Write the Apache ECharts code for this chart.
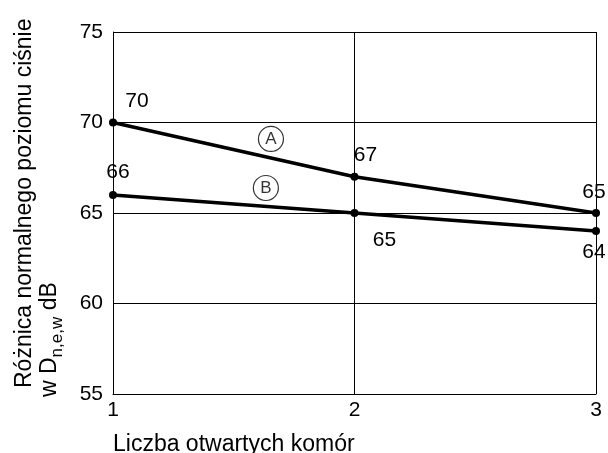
<!DOCTYPE html>
<html><head><meta charset="utf-8">
<script src="https://cdn.jsdelivr.net/npm/echarts@6/dist/echarts.min.js"></script>
<style>html,body{margin:0;padding:0;background:#fff}#c{width:608px;height:453px}</style>
</head><body><div id="c"></div>
<script>
var categories = [1, 2, 3];
var seriesA = [70, 67, 65];
var seriesB = [66, 65, 64];
var yTicks = [55, 60, 65, 70, 75];
var annotations = [
  {name: 'A', x: 1.654, y: 69.09},
  {name: 'B', x: 1.633, y: 66.38}
];
var xAxisTitle = 'Liczba otwartych komór';
var yAxisTitle1 = 'Różnica normalnego poziomu ciśnie';
var FONT = 'Liberation Sans, Arial, sans-serif';

var chart = echarts.init(document.getElementById('c'), null, {renderer: 'canvas'});

function pts(vals) { return categories.map(function (c, i) { return [c, vals[i]]; }); }

var labA = [
  {position: 'top', offset: [24, -2]},
  {position: 'top', offset: [11, -2]},
  {position: 'top', offset: [-2, -1]}
];
var labB = [
  {position: 'top', offset: [5, -3]},
  {position: 'bottom', offset: [30, 8]},
  {position: 'bottom', offset: [-2, 2]}
];
function withLabels(vals, labs) {
  return pts(vals).map(function (p, i) {
    return {value: p, label: labs[i]};
  });
}

chart.setOption({
  animation: false,
  grid: {left: 113, right: 12, top: 32, bottom: 59},
  xAxis: {
    type: 'value', min: 1, max: 3, interval: 1,
    axisLine: {show: true, lineStyle: {color: '#000', width: 1}},
    axisTick: {show: false},
    axisLabel: {color: '#000', fontSize: 21, fontFamily: FONT, margin: 6},
    splitLine: {show: true, lineStyle: {color: '#000', width: 1}}
  },
  yAxis: {
    type: 'value', min: yTicks[0], max: yTicks[yTicks.length - 1], interval: 5,
    axisLine: {show: true, lineStyle: {color: '#000', width: 1}},
    axisTick: {show: false},
    axisLabel: {color: '#000', fontSize: 21, fontFamily: FONT, margin: 10},
    splitLine: {show: true, lineStyle: {color: '#000', width: 1}}
  },
  series: [
    {
      type: 'line', data: withLabels(seriesA, labA),
      lineStyle: {color: '#000', width: 3.5},
      itemStyle: {color: '#000'},
      symbol: 'circle', symbolSize: 8,
      label: {show: true, color: '#000', fontSize: 21, fontFamily: FONT,
        formatter: function (p) { return p.value[1]; }},
      z: 3
    },
    {
      type: 'line', data: withLabels(seriesB, labB),
      lineStyle: {color: '#000', width: 3.5},
      itemStyle: {color: '#000'},
      symbol: 'circle', symbolSize: 8,
      label: {show: true, color: '#000', fontSize: 21, fontFamily: FONT,
        formatter: function (p) { return p.value[1]; }},
      z: 3
    },
    {
      type: 'scatter',
      data: annotations.map(function (a) { return {value: [a.x, a.y], name: a.name}; }),
      symbol: 'circle', symbolSize: 25,
      itemStyle: {color: '#fff', borderColor: '#000', borderWidth: 1.2},
      label: {show: true, position: 'inside', color: '#000', fontSize: 17, fontFamily: FONT,
        formatter: function (p) { return p.name; }},
      z: 4
    }
  ],
  graphic: [
    {
      type: 'text', left: 113, top: 433,
      style: {text: xAxisTitle, fill: '#000', font: '23px ' + FONT}
    },
    {
      type: 'text', x: 36, y: 388, rotation: Math.PI / 2,
      style: {text: yAxisTitle1, fill: '#000', font: '23px ' + FONT, textAlign: 'left', textVerticalAlign: 'bottom'}
    },
    {
      type: 'text', x: 66, y: 397, rotation: Math.PI / 2,
      style: {
        text: '{n|w D}{s|n,e,w}{n| dB}',
        textAlign: 'left', textVerticalAlign: 'bottom',
        rich: {
          n: {fill: '#000', fontSize: 23, fontFamily: FONT, lineHeight: 28, verticalAlign: 'top'},
          s: {fill: '#000', fontSize: 17, fontFamily: FONT, lineHeight: 28, verticalAlign: 'bottom', padding: [8, 0, 0, 0]}
        }
      }
    }
  ]
});
</script>
</body></html>
